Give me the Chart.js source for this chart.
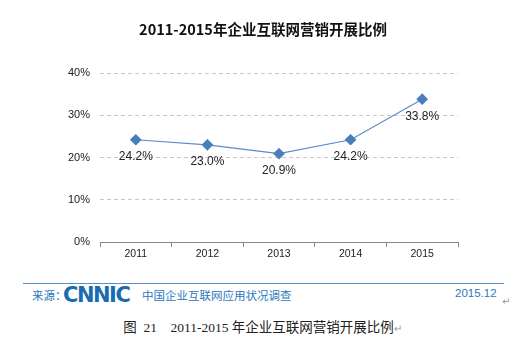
<!DOCTYPE html>
<html>
<head>
<meta charset="utf-8">
<script src="https://cdn.jsdelivr.net/npm/chart.js@4"></script>
<style>
  body { margin: 0; background: #fff; }
  #wrap { position: relative; width: 517px; height: 352px; overflow: hidden; font-family: Arial, "Liberation Sans", "Noto Sans CJK SC", sans-serif; }
  #title { position: absolute; top: 18px; left: 0; width: 526px; text-align: center; font: bold 14.5px "Noto Sans CJK SC", sans-serif; color: #111; }
  #box { position: absolute; left: 0; top: 0; width: 517px; height: 260px; }
  #rule { position: absolute; left: 23px; top: 283px; width: 481px; height: 1px; background: #5b8cc8; }
  .blue { position: absolute; color: #2a78bd; font: 11.5px "Noto Sans CJK SC", sans-serif; }
  #logo { position: absolute; left: 63px; top: 283px; color: #1a6cb0; font: 900 21px "DejaVu Sans", sans-serif; letter-spacing: -1.5px; transform: scaleX(1.0); transform-origin: left; }
  #caption { position: absolute; top: 316px; left: 4px; width: 517px; text-align: center; font: 13.5px "Liberation Serif", "Noto Sans CJK SC", serif; color: #222; white-space: pre; }
  .ret { position: absolute; color: #999; font: 10px "DejaVu Sans", sans-serif; }
</style>
</head>
<body>
<div id="wrap">
  <div id="box"><canvas id="lineChart"></canvas></div>
  <div id="title">2011-2015年企业互联网营销开展比例</div>
  <div id="rule"></div>
  <div class="blue" style="left:32px; top:287px;">来源：</div>
  <div id="logo">CNNIC</div>
  <div class="blue" style="left:142px; top:287px;">中国企业互联网应用状况调查</div>
  <div class="blue" style="left:455px; top:287px; font-family: Arial, sans-serif;">2015.12</div>
  <div class="ret" style="left:502px; top:296px;">↵</div>
  <div id="caption">图  21    2011-2015 年企业互联网营销开展比例<span style="color:#999;font-size:10px">↵</span></div>
</div>
<script>
// 年份和比例数据 (%)
var years = ['2011', '2012', '2013', '2014', '2015'];
var ratios = [24.2, 23.0, 20.9, 24.2, 33.8];
var yTicks = [0, 10, 20, 30, 40];

// 在点的下方写数值标签
var valueLabels = {
    id: 'valueLabels',
    afterDatasetsDraw: function(chart) {
        var ctx = chart.ctx;
        var meta = chart.getDatasetMeta(0);
        ctx.save();
        ctx.font = '12px Arial, "Liberation Sans", sans-serif';
        ctx.fillStyle = '#222';
        ctx.textAlign = 'center';
        ctx.textBaseline = 'middle';
        meta.data.forEach(function(pt, i) {
            ctx.fillText(ratios[i].toFixed(1) + '%', pt.x, pt.y + 17);
        });
        ctx.restore();
    }
};

var ctx = document.getElementById('lineChart').getContext('2d');
var lineChart = new Chart(ctx, {
    type: 'line',
    data: {
        labels: years,
        datasets: [{
            label: '企业互联网营销开展比例',
            data: ratios,
            borderColor: '#5b8cc8',
            borderWidth: 1.2,
            pointStyle: 'rectRot',
            pointRadius: 5,
            pointBackgroundColor: '#4a7ebb',
            pointBorderColor: '#4a7ebb',
            fill: false,
            tension: 0
        }]
    },
    options: {
        responsive: true,
        maintainAspectRatio: false,
        animation: false,
        layout: { padding: { top: 73, right: 59, left: 0, bottom: 0 } },
        plugins: {
            legend: { display: false },
            tooltip: { enabled: false }
        },
        scales: {
            x: {
                offset: true,
                grid: {
                    offset: true,
                    drawOnChartArea: false,
                    drawTicks: true,
                    tickLength: 5,
                    color: '#888'
                },
                border: { display: true, color: '#888', width: 1 },
                ticks: {
                    color: '#222',
                    font: { family: 'Arial', size: 10.5 },
                    padding: 1
                },
                afterFit: function(scale) { scale.height = 18; }
            },
            y: {
                min: 0,
                max: 40,
                afterBuildTicks: function(scale) {
                    scale.ticks = yTicks.map(function(v) { return { value: v }; });
                },
                grid: {
                    color: '#c8c8c8',
                    drawTicks: false
                },
                border: { display: false, dash: [4, 3] },
                ticks: {
                    color: '#222',
                    font: { family: 'Arial', size: 11 },
                    padding: 10,
                    callback: function(v) { return v + '%'; }
                },
                afterFit: function(scale) { scale.width = 100; }
            }
        }
    },
    plugins: [valueLabels]
});
</script>
</body>
</html>
